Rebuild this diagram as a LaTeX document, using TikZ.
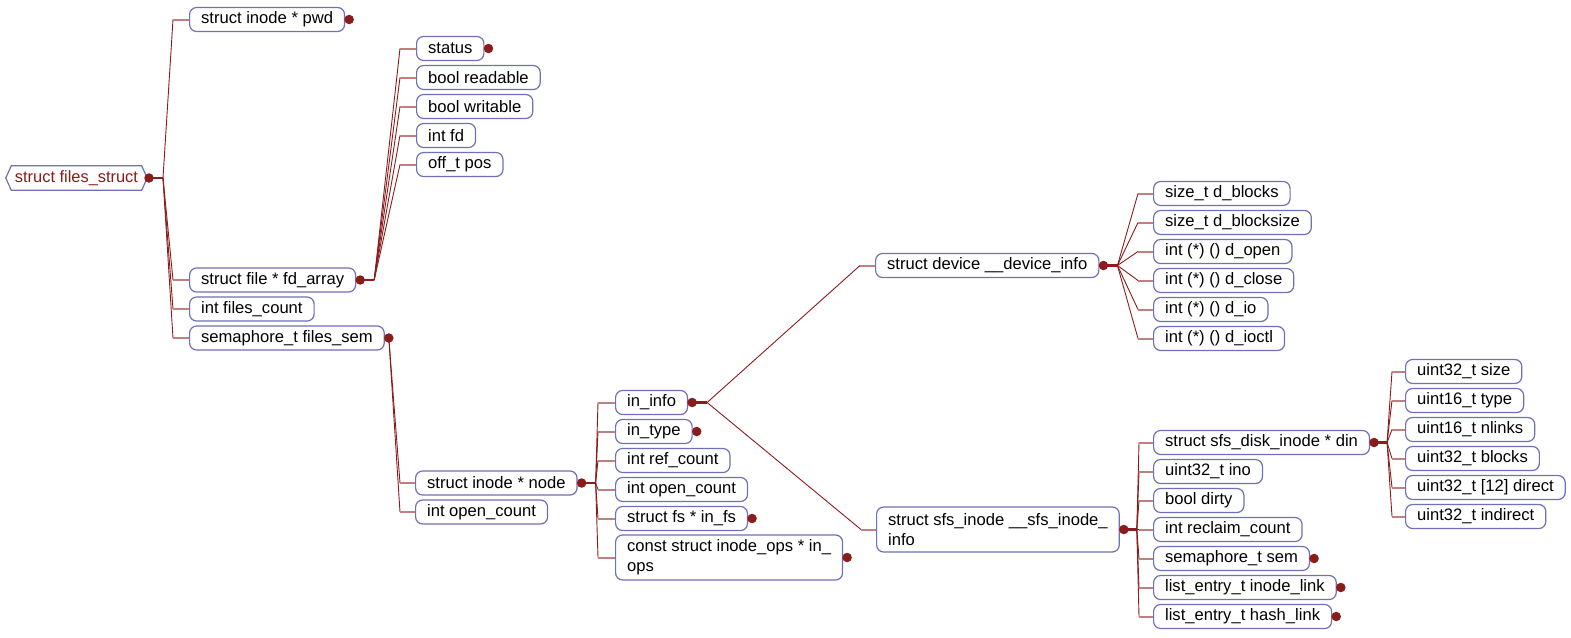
\documentclass[tikz,border=0pt]{standalone}
\usepackage{fontspec}
\setmainfont{Liberation Sans}
\usetikzlibrary{backgrounds}
\definecolor{boxc}{RGB}{112,112,184}
\definecolor{lnc}{RGB}{139,28,28}
\definecolor{stubc}{RGB}{192,128,128}
\begin{document}
\begin{tikzpicture}[x=1pt,y=-1pt,
  box/.style={draw=boxc, line width=1.2pt, rounded corners=7pt, fill=white, anchor=west,
    inner xsep=11.5pt, inner ysep=2pt, minimum height=24pt, font=\fontsize{16.6}{20}\selectfont, text=black},
  boxtwo/.style={box, align=left, minimum height=45pt},
  diag/.style={draw=lnc, line width=0.9pt},
  stub/.style={draw=stubc, line width=2pt},
  pstub/.style={draw=lnc, line width=2.6pt},
  dotc/.style={circle, fill=lnc, inner sep=0pt, minimum size=9.5pt}
]
\useasboundingbox (0,0) rectangle (1571,637);

% root
\node[inner sep=0pt, minimum height=24pt, font=\fontsize{16.4}{20}\selectfont, text=lnc] (root) at (76.5,178) {struct files\_struct};

% level 1
\node[box] (pwd) at (189,19.5) {struct inode * pwd};
\node[box] (fdarr) at (189,280) {struct file * fd\_array};
\node[box] (fcnt) at (189,309) {int files\_count};
\node[box] (fsem) at (189,338) {semaphore\_t files\_sem};

% fd_array children
\node[box] (st) at (416,48.5) {status};
\node[box] (rd) at (416,77.5) {bool readable};
\node[box] (wr) at (416,106.5) {bool writable};
\node[box] (fd) at (416,135.5) {int fd};
\node[box] (pos) at (416,164.5) {off\_t pos};

% files_sem children
\node[box] (inode) at (415,483) {struct inode * node};
\node[box] (opc) at (415,512) {int open\_count};

% node children
\node[box] (ininfo) at (615,402.5) {in\_info};
\node[box] (intype) at (615,431.5) {in\_type};
\node[box] (refc) at (615,460.5) {int ref\_count};
\node[box] (opctwo) at (615,489.5) {int open\_count};
\node[box] (infs) at (615,518.5) {struct fs * in\_fs};
\node[boxtwo] (inops) at (615,557.5) {const struct inode\_ops * in\_\\ops};

% in_info children
\node[box] (dev) at (875,265.5) {struct device \_\_device\_info};
\node[boxtwo] (sfs) at (876,529.5) {struct sfs\_inode \_\_sfs\_inode\_\\info};

% device children
\node[box] (dblk) at (1153,193.5) {size\_t d\_blocks};
\node[box] (dbsz) at (1153,222.5) {size\_t d\_blocksize};
\node[box] (dopen) at (1153,251.5) {int (*) () d\_open};
\node[box] (dclose) at (1153,280.5) {int (*) () d\_close};
\node[box] (dio) at (1153,309.5) {int (*) () d\_io};
\node[box] (dioctl) at (1153,338.5) {int (*) () d\_ioctl};

% sfs children
\node[box] (din) at (1153,442.5) {struct sfs\_disk\_inode * din};
\node[box] (ino) at (1153,471.5) {uint32\_t ino};
\node[box] (dirty) at (1153,500.5) {bool dirty};
\node[box] (recl) at (1153,529.5) {int reclaim\_count};
\node[box] (sem) at (1153,558.5) {semaphore\_t sem};
\node[box] (ilink) at (1153,587.5) {list\_entry\_t inode\_link};
\node[box] (hlink) at (1153,616.5) {list\_entry\_t hash\_link};

% din children
\node[box] (usize) at (1405,371.5) {uint32\_t size};
\node[box] (utype) at (1405,400.5) {uint16\_t type};
\node[box] (unl) at (1405,429.5) {uint16\_t nlinks};
\node[box] (ublk) at (1405,458.5) {uint32\_t blocks};
\node[box] (udir) at (1405,487.5) {uint32\_t [12] direct};
\node[box] (uind) at (1405,516.5) {uint32\_t indirect};

% dots
\node[dotc] (droot) at (149,178) {};
\foreach \p in {pwd,fdarr,fsem,st,inode,ininfo,intype,infs,inops,dev,sfs,din,sem,ilink,hlink}
  {\node[dotc] (d\p) at ([xshift=4pt]\p.east) {};}

% fan points
\coordinate (froot) at ([xshift=14pt]droot.center);
\coordinate (ffdarr) at ([xshift=14pt]dfdarr.center);
\coordinate (ffsem) at (dfsem.center);
\coordinate (finode) at ([xshift=14pt]dinode.center);
\coordinate (fininfo) at ([xshift=15pt]dininfo.center);
\coordinate (fdev) at ([xshift=14pt]ddev.center);
\coordinate (fsfs) at ([xshift=13pt]dsfs.center);
\coordinate (fdin) at ([xshift=13pt]ddin.center);

\begin{scope}[on background layer]
  \fill[white] (0,0) rectangle (1571,637);
  % root hexagon
  \draw[boxc, line width=1.2pt, fill=white]
    ([xshift=-9pt]root.west) -- ([xshift=-3.5pt]root.north west) -- ([xshift=3.5pt]root.north east)
    -- ([xshift=9pt]root.east) -- ([xshift=3.5pt]root.south east) -- ([xshift=-3.5pt]root.south west) -- cycle;
  % parent stubs
  \draw[pstub] (droot.center) -- (froot);
  \draw[pstub] (dfdarr.center) -- (ffdarr);
  \draw[pstub] (dinode.center) -- (finode);
  \draw[pstub] (dininfo.center) -- (fininfo);
  \draw[pstub] (ddev.center) -- (fdev);
  \draw[pstub] (dsfs.center) -- (fsfs);
  \draw[pstub] (ddin.center) -- (fdin);
  % children connectors
  \foreach \c in {pwd,fdarr,fcnt,fsem}
    {\draw[diag] (froot) -- ([xshift=-16pt]\c.west); \draw[stub] ([xshift=-16pt]\c.west) -- (\c.west);}
  \foreach \c in {st,rd,wr,fd,pos}
    {\draw[diag] (ffdarr) -- ([xshift=-16pt]\c.west); \draw[stub] ([xshift=-16pt]\c.west) -- (\c.west);}
  \foreach \c in {inode,opc}
    {\draw[diag] (ffsem) -- ([xshift=-15pt]\c.west); \draw[stub] ([xshift=-15pt]\c.west) -- (\c.west);}
  \foreach \c in {ininfo,intype,refc,opctwo,infs,inops}
    {\draw[diag] (finode) -- ([xshift=-17pt]\c.west); \draw[stub] ([xshift=-17pt]\c.west) -- (\c.west);}
  \foreach \c in {dev,sfs}
    {\draw[diag] (fininfo) -- ([xshift=-15pt]\c.west); \draw[stub] ([xshift=-15pt]\c.west) -- (\c.west);}
  \foreach \c in {dblk,dbsz,dopen,dclose,dio,dioctl}
    {\draw[diag] (fdev) -- ([xshift=-15pt]\c.west); \draw[stub] ([xshift=-15pt]\c.west) -- (\c.west);}
  \foreach \c in {din,ino,dirty,recl,sem,ilink,hlink}
    {\draw[diag] (fsfs) -- ([xshift=-14pt]\c.west); \draw[stub] ([xshift=-14pt]\c.west) -- (\c.west);}
  \foreach \c in {usize,utype,unl,ublk,udir,uind}
    {\draw[diag] (fdin) -- ([xshift=-13pt]\c.west); \draw[stub] ([xshift=-13pt]\c.west) -- (\c.west);}
\end{scope}
\end{tikzpicture}
\end{document}
